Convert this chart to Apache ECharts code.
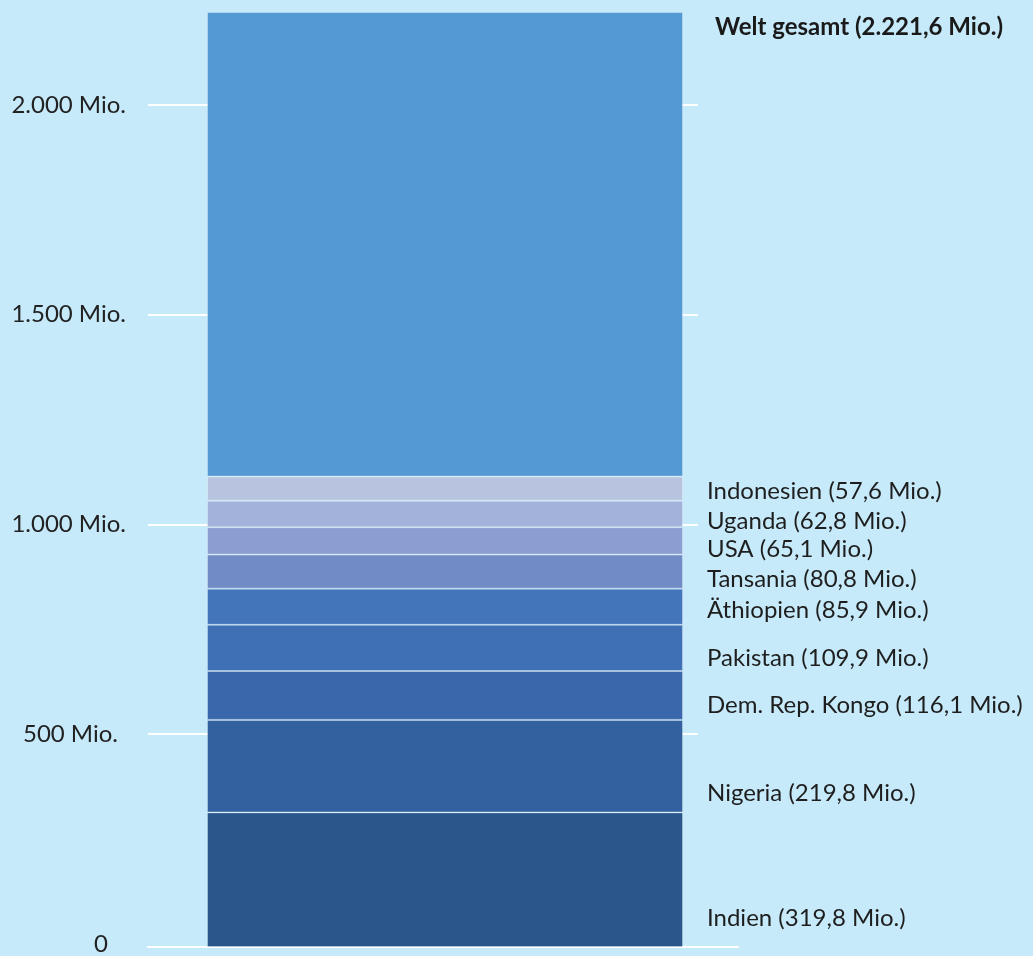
<!DOCTYPE html>
<html>
<head>
<meta charset="utf-8">
<script src="https://cdn.jsdelivr.net/npm/echarts@6/dist/echarts.min.js"></script>
<style>
html,body{margin:0;padding:0;background:#c6eaf9;}
#chart{width:1033px;height:956px;}
</style>
</head>
<body>
<div id="chart"></div>
<script>
const categories = ['Indien','Nigeria','Dem. Rep. Kongo','Pakistan','Äthiopien','Tansania','USA','Uganda','Indonesien'];
const values = [319.8,219.8,116.1,109.9,85.9,80.8,65.1,62.8,57.6];
const worldTotal = 2221.6;
const totalLabel = 'Welt gesamt';
const yTicks = [0,500,1000,1500,2000];
const unit = 'Mio.';

// styles
const colors = ['#2b568b','#33609e','#3a67ab','#3f6fb5','#4375bb','#718bc6','#8b9ed1','#a2b2da','#b8c4df'];
const restColor = '#5499d3';
const labelShift = [39,27,10,10,4,8,8,7,3];
const FONT = 'Lato';
const FS = 24;

function de(v, dec){
  const p = v.toFixed(dec).split('.');
  p[0] = p[0].replace(/\B(?=(\d{3})+(?!\d))/g,'.');
  return p.join(',');
}

const rest = +(worldTotal - values.reduce((a,b)=>a+b,0)).toFixed(1);

const series = categories.map((c,i)=>({
  type:'bar', name:c, stack:'total', xAxisIndex:1, yAxisIndex:1,
  barWidth:'100%', data:[values[i]],
  itemStyle:{color:colors[i], borderColor:'rgba(255,255,255,0.3)', borderWidth:1},
  label:{show:true, position:'right', distance:24, offset:[0,labelShift[i]],
    color:'#1e1e1e', fontFamily:FONT, fontSize:FS,
    formatter:()=> c+' ('+de(values[i],1)+' '+unit+')'},
  silent:true, animation:false
}));
series.push({
  type:'bar', name:'Rest', stack:'total', xAxisIndex:1, yAxisIndex:1,
  barWidth:'100%', data:[rest],
  itemStyle:{color:restColor, borderColor:'rgba(255,255,255,0.3)', borderWidth:1},
  label:{show:true, position:['100%',0], offset:[32,3],
    color:'#1a1a1a', fontFamily:FONT, fontSize:FS, fontWeight:'bold',
    formatter:()=> totalLabel+' ('+de(worldTotal,1)+' '+unit+')'},
  silent:true, animation:false
});

const chart = echarts.init(document.getElementById('chart'));
chart.setOption({
  backgroundColor:'#c6eaf9',
  animation:false,
  grid:[
    {left:148, right:335, top:12, bottom:9},
    {left:207, right:350, top:12, bottom:9},
    {left:148, right:295, top:12, bottom:9}
  ],
  xAxis:[
    {type:'category', gridIndex:0, data:[''], show:false},
    {type:'category', gridIndex:1, data:[''], show:false},
    {type:'category', gridIndex:2, data:[''], axisLine:{show:true, lineStyle:{color:'#ffffff', width:2}}, axisTick:{show:false}, axisLabel:{show:false}}
  ],
  yAxis:[
    {type:'value', gridIndex:0, min:0, max:worldTotal, interval:500,
      axisLine:{show:false}, axisTick:{show:false},
      splitLine:{show:true, lineStyle:{color:['rgba(0,0,0,0)','#ffffff','#ffffff','#ffffff','#ffffff','rgba(0,0,0,0)'], width:2}},
      axisLabel:{margin:22, color:'#222', fontFamily:FONT, fontSize:FS, showMaxLabel:true,
        formatter:v=>{
          if(yTicks.indexOf(v)<0) return '';
          if(v===0) return '{z|0}';
          if(v===500) return '{f|'+de(v,0)+' '+unit+'}';
          return de(v,0)+' '+unit;
        },
        rich:{z:{padding:[0,18,0,0], fontFamily:FONT, fontSize:FS, color:'#222'},
              f:{padding:[0,8,0,0], fontFamily:FONT, fontSize:FS, color:'#222'}}
      }},
    {type:'value', gridIndex:1, min:0, max:worldTotal, show:false, splitLine:{show:false}},
    {type:'value', gridIndex:2, min:0, max:worldTotal, show:false, splitLine:{show:false}}
  ],
  series:series
});
</script>
</body>
</html>
